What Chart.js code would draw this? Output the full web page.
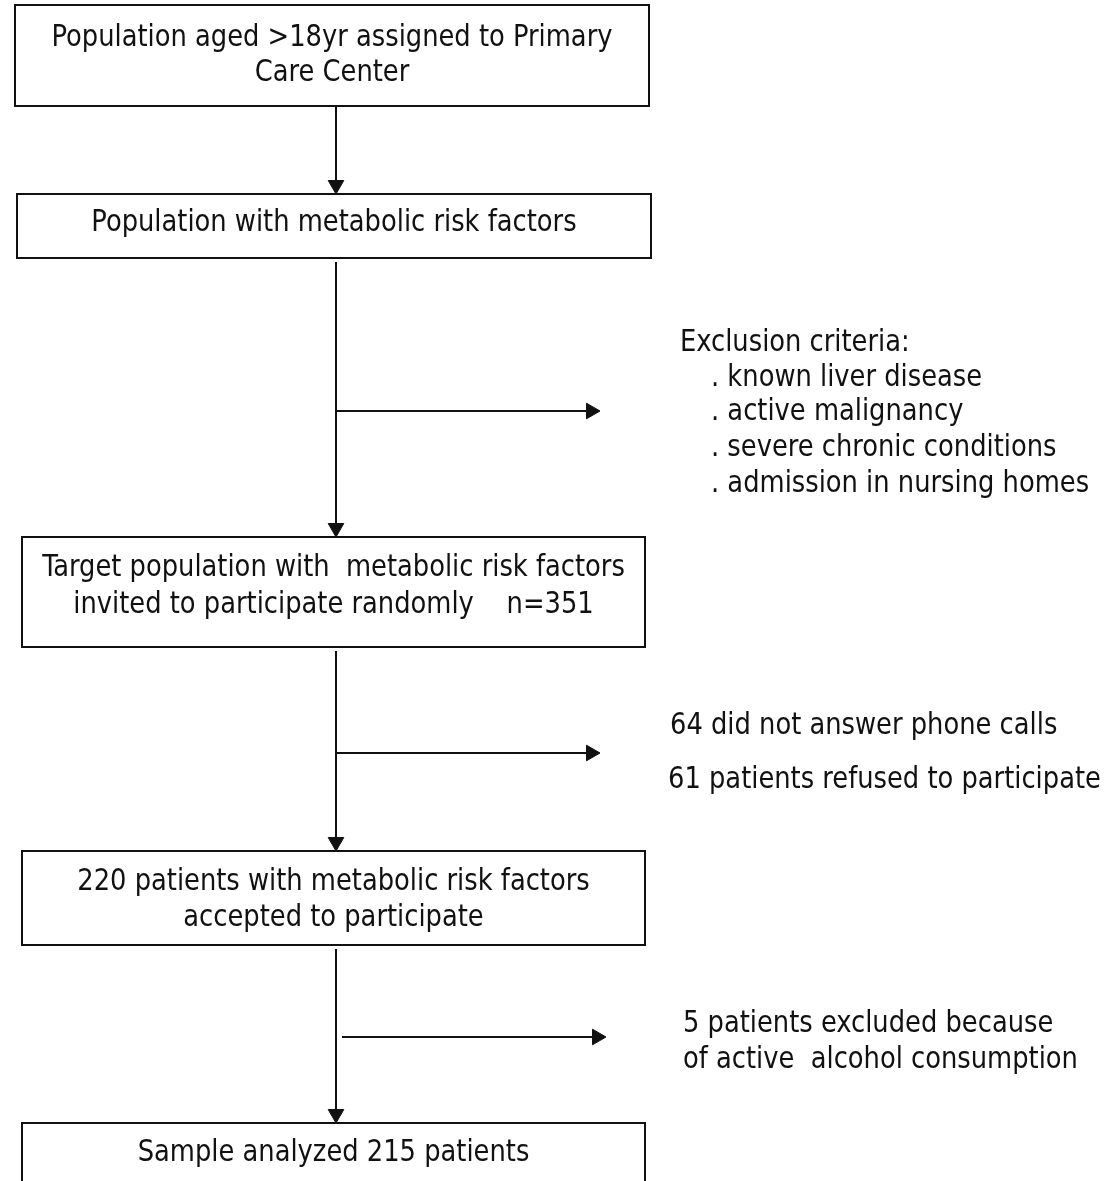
<!DOCTYPE html>
<html>
<head>
<meta charset="utf-8">
<script src="https://cdn.jsdelivr.net/npm/chart.js@4.4.1/dist/chart.umd.min.js"></script>
<style>
  html, body { margin: 0; padding: 0; background: #fff; }
  canvas { display: block; }
</style>
</head>
<body>
<canvas id="flow" width="1108" height="1181"></canvas>
<script>
// Flow of participants (counts)
const invitedCount = 351;
const noAnswerCount = 64;
const refusedCount = 61;
const acceptedCount = 220;
const alcoholCount = 5;
const analyzedCount = 215;

// text shown inside each box, top to bottom
const boxLines = [
  ['Population aged >18yr assigned to Primary', 'Care Center'],
  ['Population with metabolic risk factors'],
  ['Target population with  metabolic risk factors', 'invited to participate randomly    n=' + invitedCount],
  [acceptedCount + ' patients with metabolic risk factors', 'accepted to participate'],
  ['Sample analyzed ' + analyzedCount + ' patients']
];

// text beside each side arrow
const exclusionLines = ['Exclusion criteria:', '. known liver disease', '. active malignancy', '. severe chronic conditions', '. admission in nursing homes'];
const dropoutLines = [noAnswerCount + ' did not answer phone calls', refusedCount + ' patients refused to participate'];
const alcoholLines = [alcoholCount + ' patients excluded because', 'of active  alcohol consumption'];

// layout, in the diagram's own units (x 0..1108, y 0..1181 downwards)
const boxLeft   = [15, 17, 22, 22, 22];
const boxRight  = [649, 651, 645, 645, 645];
const boxTop    = [5, 194, 537, 851, 1123];
const boxBottom = [106, 258, 647, 945, 1200];
const boxTextY  = [[38, 73], [223], [568, 605], [882, 918], [1153]];

const spineX = 336;
const downArrows = [[106, 194], [262, 537], [651, 851], [949, 1123]];
const sideArrows = [{ y: 411, x0: 336, x1: 600 }, { y: 753, x0: 336, x1: 600 }, { y: 1037, x0: 342, x1: 606 }];

const exclusionX = [680, 711, 711, 711, 711];
const exclusionY = [343, 378, 412, 448, 484];
const dropoutX = [670, 668];
const dropoutY = [726, 780];
const alcoholX = [683, 683];
const alcoholY = [1024, 1060];

const ink = '#111';
const headR = 9;
const squeeze = 0.955; // narrow the font a bit, the original is a condensed face

// build the datasets
const datasets = [];
for (let i = 0; i < boxLines.length; i++) {
  datasets.push({
    data: [
      { x: boxLeft[i], y: boxTop[i] },
      { x: boxRight[i], y: boxTop[i] },
      { x: boxRight[i], y: boxBottom[i] },
      { x: boxLeft[i], y: boxBottom[i] },
      { x: boxLeft[i], y: boxTop[i] }
    ],
    borderColor: ink,
    borderWidth: 2,
    borderJoinStyle: 'miter',
    borderCapStyle: 'square',
    pointRadius: 0,
    showLine: true
  });
}

function arrowDataset(points, rotation) {
  return {
    data: points,
    borderColor: ink,
    backgroundColor: ink,
    borderWidth: 2,
    showLine: true,
    pointStyle: 'triangle',
    pointRotation: rotation,
    pointRadius: ctx => ctx.dataIndex === points.length - 1 ? headR : 0,
    pointBorderWidth: 1,
    pointBorderColor: ink,
    pointBackgroundColor: ink
  };
}

downArrows.forEach(a => {
  datasets.push(arrowDataset([{ x: spineX, y: a[0] }, { x: spineX, y: a[1] - headR }], 180));
});
sideArrows.forEach(a => {
  datasets.push(arrowDataset([{ x: a.x0, y: a.y }, { x: a.x1 - headR, y: a.y }], 90));
});

// draws a line of text, squeezed horizontally
function drawText(c, t, x, y, align) {
  c.save();
  c.translate(x, y);
  c.scale(squeeze, 1);
  c.textAlign = align;
  c.fillText(t, 0, 0);
  c.restore();
}

// text plugin, placed through the scales
const textPlugin = {
  id: 'flowText',
  beforeDraw(chart) {
    const c = chart.ctx;
    c.save();
    c.fillStyle = '#fff';
    c.fillRect(0, 0, chart.width, chart.height);
    c.restore();
  },
  afterDatasetsDraw(chart) {
    const c = chart.ctx;
    const xs = chart.scales.x, ys = chart.scales.y;
    c.save();
    c.fillStyle = ink;
    c.font = '30px "Liberation Sans Narrow", "Arial Narrow", "DejaVu Sans Condensed", sans-serif';
    c.textBaseline = 'middle';

    boxLines.forEach((lines, i) => {
      const cx = xs.getPixelForValue((boxLeft[i] + boxRight[i]) / 2);
      lines.forEach((t, j) => drawText(c, t, cx, ys.getPixelForValue(boxTextY[i][j]), 'center'));
    });

    exclusionLines.forEach((t, j) => drawText(c, t, xs.getPixelForValue(exclusionX[j]), ys.getPixelForValue(exclusionY[j]), 'left'));
    dropoutLines.forEach((t, j) => drawText(c, t, xs.getPixelForValue(dropoutX[j]), ys.getPixelForValue(dropoutY[j]), 'left'));
    alcoholLines.forEach((t, j) => drawText(c, t, xs.getPixelForValue(alcoholX[j]), ys.getPixelForValue(alcoholY[j]), 'left'));
    c.restore();
  }
};

new Chart(document.getElementById('flow'), {
  type: 'scatter',
  data: { datasets: datasets },
  options: {
    responsive: false,
    animation: false,
    layout: { padding: 0, autoPadding: false },
    plugins: { legend: { display: false }, tooltip: { enabled: false } },
    scales: {
      x: { type: 'linear', display: false, min: 0, max: 1108 },
      y: { type: 'linear', display: false, min: 0, max: 1181, reverse: true }
    }
  },
  plugins: [textPlugin]
});
</script>
</body>
</html>
